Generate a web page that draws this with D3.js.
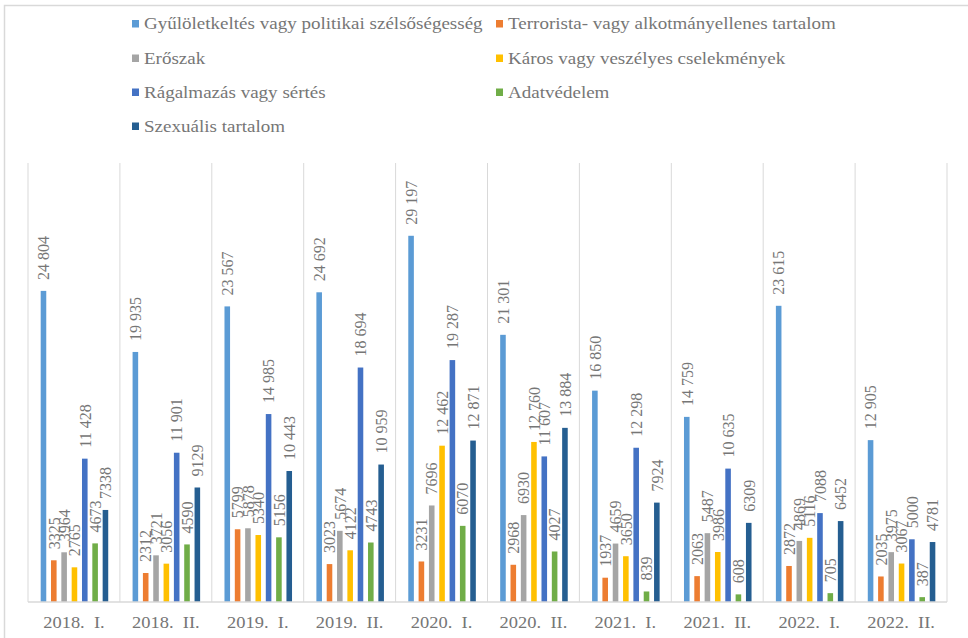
<!DOCTYPE html>
<html>
<head>
<meta charset="utf-8">
<script src="https://cdn.jsdelivr.net/npm/d3@7"></script>
<style>
  html, body { margin: 0; padding: 0; background: #fff; }
  svg { display: block; }
</style>
</head>
<body>
<svg id="chart" width="968" height="638"></svg>
<script>
// Half-year periods on the category axis
const periods = ["2018.\u00a0\u00a0I.", "2018.\u00a0\u00a0II.", "2019.\u00a0\u00a0I.", "2019.\u00a0\u00a0II.",
                 "2020.\u00a0\u00a0I.", "2020.\u00a0\u00a0II.", "2021.\u00a0\u00a0I.", "2021.\u00a0\u00a0II.",
                 "2022.\u00a0\u00a0I.", "2022.\u00a0\u00a0II."];

// Content categories (series)
const seriesNames = [
  "Gyűlöletkeltés vagy politikai szélsőségesség",
  "Terrorista- vagy alkotmányellenes tartalom",
  "Erőszak",
  "Káros vagy veszélyes cselekmények",
  "Rágalmazás vagy sértés",
  "Adatvédelem",
  "Szexuális tartalom"
];
const seriesColors = ["#5B9BD5", "#ED7D31", "#A5A5A5", "#FFC000", "#4472C4", "#70AD47", "#255E91"];

// Values per series, one per period
const gyuloletkeltes = [24804, 19935, 23567, 24692, 29197, 21301, 16850, 14759, 23615, 12905];
const terrorista     = [3325, 2312, 5799, 3023, 3231, 2968, 1937, 2063, 2872, 2035];
const eroszak        = [3964, 3721, 5878, 5674, 7696, 6930, 4659, 5487, 4869, 3975];
const karos          = [2765, 3056, 5340, 4122, 12462, 12760, 3650, 3986, 5116, 3067];
const ragalmazas     = [11428, 11901, 14985, 18694, 19287, 11607, 12298, 10635, 7088, 5000];
const adatvedelem    = [4673, 4590, 5156, 4743, 6070, 4027, 839, 608, 705, 387];
const szexualis      = [7338, 9129, 10443, 10959, 12871, 13884, 7924, 6309, 6452, 4781];

const seriesValues = [gyuloletkeltes, terrorista, eroszak, karos, ragalmazas, adatvedelem, szexualis];

const svg = d3.select("#chart");
const textColor = "#767676";
const gridColor = "#D9D9D9";
const font = "'Liberation Serif', 'Times New Roman', serif";

// chart frame
svg.append("rect")
  .attr("x", 4.5).attr("y", 5.5)
  .attr("width", 1000).attr("height", 1000)
  .attr("fill", "none").attr("stroke", gridColor).attr("stroke-width", 1.5);

const plot = { left: 28, right: 947, top: 163, bottom: 602 };

const x0 = d3.scaleBand().domain(d3.range(periods.length))
  .range([plot.left, plot.right]).paddingInner(0).paddingOuter(0);
const bw = x0.bandwidth();
const x1 = d3.scaleBand().domain(d3.range(seriesNames.length))
  .range([bw * 0.138, bw * 0.873]).paddingInner(0.46).paddingOuter(0);
const y = d3.scaleLinear().domain([0, 35000]).range([plot.bottom, plot.top]);

// vertical separators between periods
const seps = d3.range(periods.length + 1).map(i => plot.left + i * bw);
svg.append("g").selectAll("line").data(seps).join("line")
  .attr("x1", d => d).attr("x2", d => d)
  .attr("y1", plot.top).attr("y2", plot.bottom)
  .attr("stroke", gridColor).attr("stroke-width", 1);

// value formatting: thousands separated by a space from 10 000 up
const huLocale = d3.formatLocale({ decimal: ",", thousands: "\u00a0", grouping: [3], currency: ["", ""] });
const fmtBig = huLocale.format(",d");
const fmt = v => v >= 10000 ? fmtBig(v) : String(v);

const groups = svg.append("g").selectAll("g").data(periods).join("g")
  .attr("transform", (d, i) => `translate(${x0(i)},0)`);

groups.each(function (p, pi) {
  const g = d3.select(this);
  const rows = seriesValues.map((vals, si) => ({ si, v: vals[pi] }));
  g.selectAll("rect").data(rows).join("rect")
    .attr("x", d => x1(d.si))
    .attr("width", x1.bandwidth())
    .attr("y", d => y(d.v))
    .attr("height", d => y(0) - y(d.v))
    .attr("fill", d => seriesColors[d.si]);
  g.selectAll("text").data(rows).join("text")
    .attr("transform", d => `translate(${x1(d.si) + x1.bandwidth() / 2},${y(d.v) - 11}) rotate(-90)`)
    .attr("dy", "0.36em")
    .attr("text-anchor", "start")
    .attr("font-family", font)
    .attr("font-size", 16)
    .attr("fill", textColor)
    .text(d => fmt(d.v));
});

// baseline
svg.append("line")
  .attr("x1", plot.left).attr("x2", plot.right)
  .attr("y1", plot.bottom).attr("y2", plot.bottom)
  .attr("stroke", gridColor).attr("stroke-width", 1.5);

// category labels (slightly widened serif)
svg.append("g").selectAll("text").data(periods).join("text")
  .attr("transform", (d, i) => `translate(${x0(i) + bw / 2},628) scale(1.12,1)`)
  .attr("text-anchor", "middle")
  .attr("font-family", font)
  .attr("font-size", 16.5)
  .attr("fill", textColor)
  .text(d => d);

// legend, two columns
const legendCols = [132, 496];
const legendRows = [29, 63.5, 97.5, 131.5];
const legend = svg.append("g").selectAll("g").data(seriesNames).join("g")
  .attr("transform", (d, i) => `translate(${legendCols[i % 2]},${legendRows[Math.floor(i / 2)]})`);
legend.append("rect")
  .attr("x", 0).attr("y", -9).attr("width", 7).attr("height", 7.5)
  .attr("fill", (d, i) => seriesColors[i]);
legend.append("text")
  .attr("transform", "translate(12,0) scale(1.12,1)")
  .attr("font-family", font)
  .attr("font-size", 17)
  .attr("fill", textColor)
  .text(d => d);
</script>
</body>
</html>
